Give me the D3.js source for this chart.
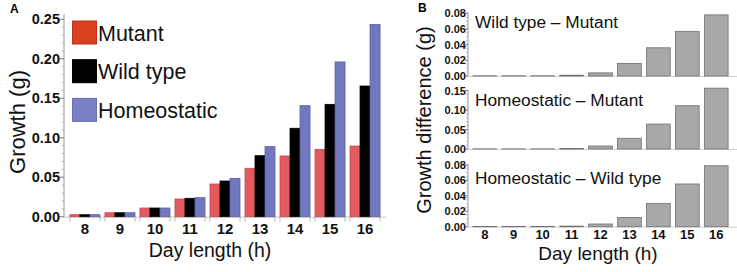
<!DOCTYPE html>
<html lang="en">
<head>
<meta charset="UTF-8">
<title>growth-bars</title>
<script src="https://cdn.jsdelivr.net/npm/d3@7/dist/d3.min.js"></script>
<style>
  body { margin: 0; background: #fff; }
  svg { display: block; font-family: "Liberation Sans", Arial, sans-serif; }
  .tick-lab { font-weight: bold; fill: #111; }
</style>
</head>
<body>
<script>
// day lengths (h)
const days = [8, 9, 10, 11, 12, 13, 14, 15, 16];
const seriesNames = ['Mutant', 'Wild type', 'Homeostatic'];
// growth (g)
const mutant = [0.0025, 0.005, 0.011, 0.0224, 0.0414, 0.0613, 0.0769, 0.0853, 0.0895];
const wildType = [0.0025, 0.005, 0.011, 0.0233, 0.0452, 0.0773, 0.112, 0.1423, 0.1655];
const homeostatic = [0.0025, 0.005, 0.011, 0.0241, 0.0486, 0.0887, 0.1406, 0.196, 0.2435];
// growth differences (g), panel B
const wtMinusMutant = [0.0003, 0.0003, 0.0003, 0.001, 0.004, 0.016, 0.036, 0.057, 0.078];
const homMinusMutant = [0.0004, 0.0004, 0.0004, 0.0015, 0.0077, 0.0275, 0.064, 0.111, 0.156];
const homMinusWt = [0.0003, 0.0003, 0.0003, 0.0008, 0.0035, 0.012, 0.030, 0.0554, 0.079];
const diffTitles = ['Wild type \u2013 Mutant', 'Homeostatic \u2013 Mutant', 'Homeostatic \u2013 Wild type'];
const yTicksA = [0, 0.05, 0.10, 0.15, 0.20, 0.25];

const W = 737, H = 272;
const svg = d3.select('body').append('svg').attr('width', W).attr('height', H);

// ---------- panel A ----------
const fills = ['#e35a60', '#000000', '#7178be'];
const strokes = ['#c8474c', '#000000', '#5a60a6'];
const swatch = ['#d9401f', '#000000', '#7a80c4'];

const xA = d3.scaleBand().domain(days).range([64, 386]).paddingInner(5 / 35).paddingOuter(0.17);
const xIn = d3.scaleBand().domain(d3.range(3)).range([0, xA.bandwidth()]);
const yA = d3.scaleLinear().domain([0, 0.25]).range([216.7, 19.3]);
const seriesA = [mutant, wildType, homeostatic];

const gA = svg.append('g');

// frame lines
gA.append('line').attr('x1', 64).attr('x2', 386).attr('y1', yA(0) + 0.5).attr('y2', yA(0) + 0.5)
  .attr('stroke', '#c4c4c4');
gA.append('line').attr('x1', 64).attr('x2', 64).attr('y1', yA(0)).attr('y2', 14)
  .attr('stroke', '#9a9a9a');

// minor ticks
d3.range(0, 0.2501, 0.01).forEach(function (v) {
  gA.append('line').attr('x1', 61.5).attr('x2', 64).attr('y1', yA(v)).attr('y2', yA(v))
    .attr('stroke', '#aaa').attr('stroke-width', 0.8);
});
yTicksA.forEach(function (v) {
  gA.append('line').attr('x1', 59).attr('x2', 64).attr('y1', yA(v)).attr('y2', yA(v))
    .attr('stroke', '#888');
  gA.append('text').attr('class', 'tick-lab').attr('x', 60).attr('y', yA(v) + 5)
    .attr('text-anchor', 'end').attr('font-size', 14.5).text(v.toFixed(2));
});

// group edge ticks
days.forEach(function (d) {
  [xA(d), xA(d) + xA.bandwidth()].forEach(function (x) {
    gA.append('line').attr('x1', x).attr('x2', x).attr('y1', yA(0)).attr('y2', yA(0) + 5)
      .attr('stroke', '#bbb');
  });
  gA.append('text').attr('class', 'tick-lab').attr('x', xA(d) + xA.bandwidth() / 2).attr('y', 233.5)
    .attr('text-anchor', 'middle').attr('font-size', 15).text(d);
});

// bars
seriesA.forEach(function (vals, s) {
  gA.selectAll('rect.s' + s)
    .data(vals)
    .enter()
    .append('rect')
    .attr('class', 's' + s)
    .attr('x', function (v, i) { return xA(days[i]) + xIn(s); })
    .attr('width', xIn.bandwidth())
    .attr('y', function (v) { return yA(v); })
    .attr('height', function (v) { return yA(0) - yA(v); })
    .attr('fill', fills[s])
    .attr('stroke', strokes[s])
    .attr('stroke-width', 0.8);
});

// legend
seriesNames.forEach(function (n, i) {
  const y0 = 21 + i * 38.7;
  gA.append('rect').attr('x', 72.5).attr('y', y0).attr('width', 24).attr('height', 23)
    .attr('fill', swatch[i]).attr('stroke', i === 1 ? '#000' : d3.color(swatch[i]).darker(0.4));
  gA.append('text').attr('x', 98).attr('y', y0 + 19.5).attr('font-size', 21.5)
    .attr('fill', '#111').text(n);
});

gA.append('text').attr('transform', 'translate(25,122) rotate(-90)').attr('text-anchor', 'middle')
  .attr('font-size', 22).attr('fill', '#111').text('Growth (g)');
gA.append('text').attr('x', 210).attr('y', 257).attr('text-anchor', 'middle')
  .attr('font-size', 19.5).attr('fill', '#111').text('Day length (h)');
gA.append('text').attr('x', 10).attr('y', 13).attr('font-size', 12).attr('font-weight', 'bold').text('A');

// ---------- panel B ----------
const xB = d3.scaleBand().domain(days).range([470, 731]).paddingInner(0.18).paddingOuter(0.1);
const panelsB = [
  { vals: wtMinusMutant, dom: 0.08, top: 13.3, base: 76, step: 0.02, minor: 0.005, fmt: 2, ty: 28 },
  { vals: homMinusMutant, dom: 0.16, top: 86.6, base: 149, step: 0.05, minor: 0.01, fmt: 2, ty: 106 },
  { vals: homMinusWt, dom: 0.08, top: 165, base: 226.7, step: 0.02, minor: 0.005, fmt: 2, ty: 184 }
];

const gB = svg.append('g');
panelsB.forEach(function (p, k) {
  const y = d3.scaleLinear().domain([0, p.dom]).range([p.base, p.top]);
  const maxTick = k === 1 ? 0.15 : 0.08;
  gB.append('line').attr('x1', 468).attr('x2', 468).attr('y1', p.base).attr('y2', y(maxTick) - 1)
    .attr('stroke', '#9a9a9a');
  d3.range(0, maxTick + 1e-9, p.minor).forEach(function (v) {
    gB.append('line').attr('x1', 466).attr('x2', 468).attr('y1', y(v)).attr('y2', y(v))
      .attr('stroke', '#aaa').attr('stroke-width', 0.7);
  });
  d3.range(0, maxTick + 1e-9, p.step).forEach(function (v) {
    gB.append('line').attr('x1', 465).attr('x2', 468).attr('y1', y(v)).attr('y2', y(v))
      .attr('stroke', '#888');
    gB.append('text').attr('class', 'tick-lab').attr('x', 466).attr('y', y(v) + 4)
      .attr('text-anchor', 'end').attr('font-size', 11).text(v.toFixed(p.fmt));
  });
  gB.append('line').attr('x1', 468).attr('x2', 737).attr('y1', p.base + 0.5).attr('y2', p.base + 0.5)
    .attr('stroke', '#d0d0d0');
  gB.selectAll('rect.p' + k)
    .data(p.vals)
    .enter()
    .append('rect')
    .attr('class', 'p' + k)
    .attr('x', function (v, i) { return xB(days[i]); })
    .attr('width', xB.bandwidth())
    .attr('y', function (v) { return y(v); })
    .attr('height', function (v) { return p.base - y(v); })
    .attr('fill', '#a8a8a8')
    .attr('stroke', '#707070')
    .attr('stroke-width', 0.8);
  gB.append('text').attr('x', 475).attr('y', p.ty).attr('font-size', 17.3).attr('fill', '#111')
    .text(diffTitles[k]);
});

days.forEach(function (d) {
  gB.append('text').attr('class', 'tick-lab').attr('x', xB(d) + xB.bandwidth() / 2).attr('y', 238.5)
    .attr('text-anchor', 'middle').attr('font-size', 13).text(d);
});
gB.append('text').attr('transform', 'translate(431,120) rotate(-90)').attr('text-anchor', 'middle')
  .attr('font-size', 20).attr('fill', '#111').text('Growth difference (g)');
gB.append('text').attr('x', 598).attr('y', 259.5).attr('text-anchor', 'middle')
  .attr('font-size', 19).attr('fill', '#111').text('Day length (h)');
gB.append('text').attr('x', 418).attr('y', 12).attr('font-size', 12).attr('font-weight', 'bold').text('B');
</script>
</body>
</html>
